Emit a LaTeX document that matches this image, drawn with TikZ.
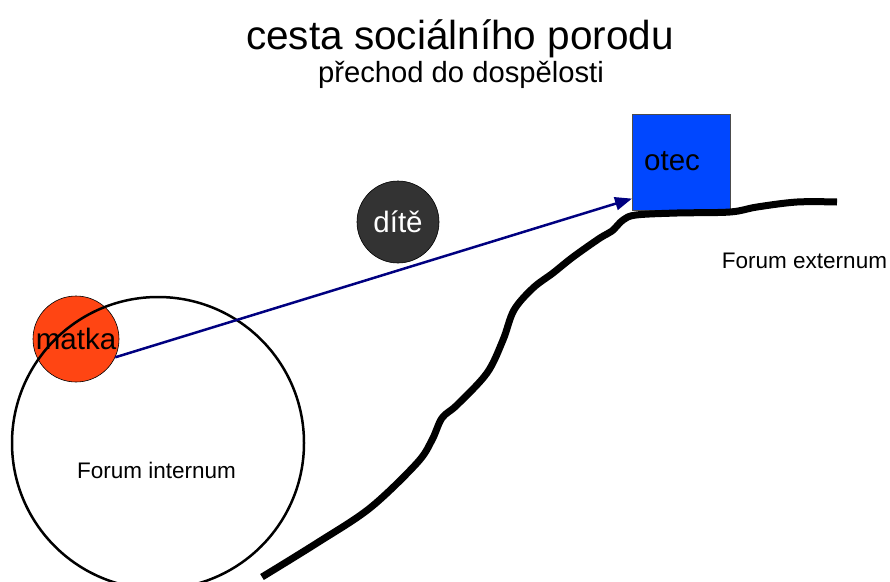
\documentclass[tikz,border=0pt]{standalone}
\usepackage{fontspec}
\setmainfont{Liberation Sans}
\usetikzlibrary{arrows.meta}
\definecolor{matkacol}{HTML}{FF4513}
\definecolor{ditecol}{HTML}{333333}
\definecolor{oteccol}{HTML}{0047FF}
\definecolor{arrowcol}{HTML}{000080}
\tikzset{
  person/.style={circle, draw=black, line width=0.6pt, inner sep=0pt, minimum size=86pt},
  label22/.style={anchor=base, inner sep=0pt, font=\fontsize{22.5}{26}\selectfont},
  namefont/.style={font=\fontsize{29.5}{34}\selectfont},
  ground/.style={line width=7pt, line cap=butt, line join=round},
}
\begin{document}
\begin{tikzpicture}[x=1pt,y=-1pt]
\useasboundingbox (0,0) rectangle (890,581);
% titles
\node[anchor=base, inner sep=0pt, font=\fontsize{40.5}{46}\selectfont] (title) at (460,49) {cesta sociálního porodu};
\node[anchor=base, inner sep=0pt, font=\fontsize{29.2}{34}\selectfont] (subtitle) at (461,82) {přechod do dospělosti};
% persons
\node[person, fill=matkacol, namefont, text=black] (matka) at (76,339) {matka};
\node[person, fill=ditecol, minimum size=82pt, namefont, text=white] (dite) at (398,222) {dítě};
\node[draw=black!70, line width=0.6pt, fill=oteccol, minimum width=98pt, minimum height=96pt, anchor=north west, inner sep=0pt] (otec) at (632,114) {};
\node[namefont, anchor=west, inner sep=0pt] (oteclabel) at (644,161) {otec};
% forum internum
\draw[line width=2.5pt] (158,443) circle[radius=146];
\node[label22] (fi) at (156.5,478) {Forum internum};
\node[label22] (fe) at (804.5,268) {Forum externum};
% wavy ground line
\draw[ground] plot[smooth, tension=0.55] coordinates {
 (262,577) (317,543) (370,508) (417,463) (432,440) (442,418) (457,405)
 (487,373) (503,340) (514,310) (533,288) (553,273) (573,257) (600,238)
 (612,231) (623,220) (636,215) (677,213) (730,212) (757,207) (797,202) (837,202)};
% arrow
\draw[arrowcol, line width=2.5pt, -{Triangle[length=17pt, width=13pt]}]
  (matka.-25) -- ([yshift=12pt]otec.south west);
\end{tikzpicture}
\end{document}
